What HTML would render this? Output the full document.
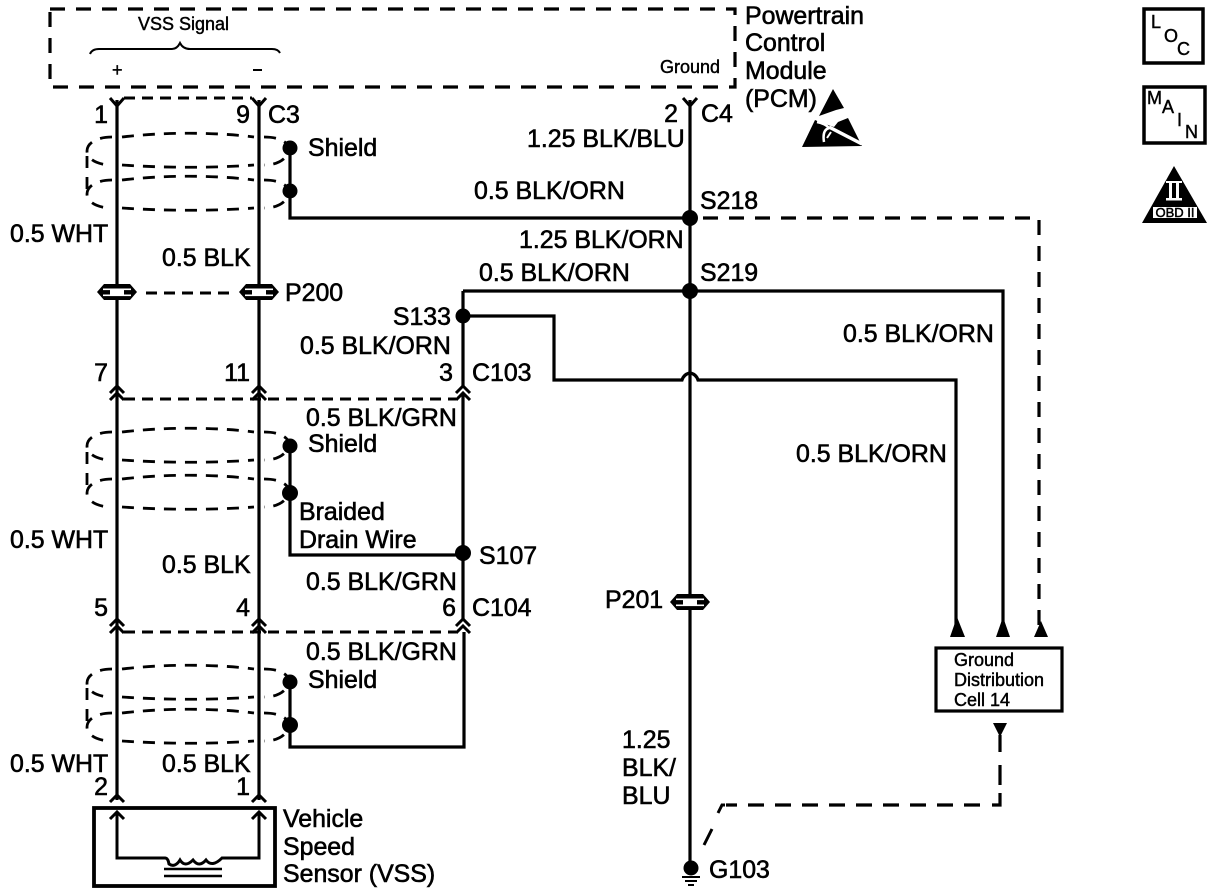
<!DOCTYPE html>
<html><head><meta charset="utf-8"><style>
html,body{margin:0;padding:0;background:#fff;width:1216px;height:894px;overflow:hidden}
svg{display:block}
text{font-family:"Liberation Sans",sans-serif;font-size:24.9px;fill:#000;stroke:#000;stroke-width:.6px}
.s{font-size:18px;stroke-width:.45px}
.e{text-anchor:end}
.w{fill:none;stroke:#000;stroke-width:3.2}
.d{fill:none;stroke:#000;stroke-width:3.2;stroke-dasharray:15 11}
.c{fill:none;stroke:#000;stroke-width:2.8;stroke-dasharray:12 9}
.h{fill:none;stroke:#000;stroke-width:3}
</style></head><body>
<svg width="1216" height="894" viewBox="0 0 1216 894" xmlns="http://www.w3.org/2000/svg">
<defs>
<g id="conn"><polygon points="-20,0 -13,-8 13,-8 20,0 13,8 -13,8" fill="#000"/><rect x="-14" y="-3.5" width="28" height="1.6" fill="#fff"/><rect x="-14" y="2.5" width="28" height="1.6" fill="#fff"/><rect x="-7" y="-2" width="14" height="4.5" fill="#fff"/></g>
<g id="ring">
<path class="c" d="M112,0 C97,0 87,6 87,14 C87,22 97,28 112,28"/>
<path class="c" d="M122,0 C165,-5 215,-5 254,0"/>
<path class="c" d="M122,28 C165,31 215,31 254,28"/>
<path class="c" d="M264,0 C278,0 287,4 290,12 C287,22 278,28 264,28"/>
</g>
<g id="chev"><path class="h" d="M-7,7 L0,0 L7,7 M-7,14 L0,7 L7,14"/></g>
</defs>

<!-- PCM box -->
<path class="d" d="M50,9 H735 V87 H50 Z"/>
<text class="s" x="138" y="30">VSS Signal</text>
<path d="M90,54 Q92,49 99,49 H172 Q177,49 180,43 Q183,49 190,49 H272 Q278,49 280,53" fill="none" stroke="#000" stroke-width="2"/>
<text class="s" x="112" y="76">+</text>
<path d="M253,70 H262" stroke="#000" stroke-width="2"/>
<text class="s" x="660" y="73">Ground</text>
<text x="745" y="24">Powertrain</text>
<text x="745" y="51">Control</text>
<text x="745" y="79">Module</text>
<text x="745" y="107">(PCM)</text>

<!-- ESD symbol -->
<polygon points="833,89 844,108 836,110 819,116" fill="#000"/>
<polygon points="802,147 815,120 822,123 834,127 838,122 848,118 862,146" fill="#000"/>
<path d="M829,127 L862,144" stroke="#fff" stroke-width="3.5"/>
<path d="M817,122 Q826,124 829,128 Q822,130 824,142" fill="none" stroke="#fff" stroke-width="2.5"/>
<path d="M827,138 L831,132" stroke="#fff" stroke-width="2"/>

<!-- main wires left -->
<path class="w" d="M117,100 V800"/>
<path class="w" d="M259,100 V800"/>
<path class="h" d="M110,98 L117,106 L124,98 M252,98 L259,106 L266,98"/>
<path class="h" d="M124,98 H252" style="stroke-dasharray:11 7"/>

<!-- rings -->
<use href="#ring" x="0" y="137"/>
<use href="#ring" x="0" y="180"/>
<use href="#ring" x="0" y="432"/>
<use href="#ring" x="0" y="479"/>
<use href="#ring" x="0" y="669"/>
<use href="#ring" x="0" y="713"/>
<path class="c" d="M87,156 V190 M87,452 V492 M87,688 V726"/>

<!-- shield wires -->
<path class="w" d="M290,148 V218 H690"/>
<path class="w" d="M290,446 V555 H463"/>
<path class="w" d="M290,682 V747 H464 V632"/>
<circle cx="290" cy="148" r="7.5"/><circle cx="290" cy="191" r="7.5"/>
<circle cx="290" cy="446" r="7.5"/><circle cx="290" cy="493" r="8"/>
<circle cx="290" cy="682" r="7.5"/><circle cx="290" cy="725" r="8"/>

<!-- P200 -->
<use href="#conn" x="117" y="292"/><use href="#conn" x="259" y="292"/>
<path class="h" d="M146,293 H236" style="stroke-dasharray:11 7"/>

<!-- C103/C104 -->
<use href="#chev" x="117" y="386"/><use href="#chev" x="259" y="386"/><use href="#chev" x="463" y="386"/>
<path class="h" d="M124,399 H456" style="stroke-dasharray:11 7"/>
<use href="#chev" x="117" y="619"/><use href="#chev" x="259" y="619"/><use href="#chev" x="463" y="619"/>
<path class="h" d="M124,632 H456" style="stroke-dasharray:11 7"/>

<!-- centre / right wires -->
<path class="w" d="M463,291 V386 M463,393 V620"/>
<path class="w" d="M690,100 V868"/>
<path class="h" d="M683,98 L690,106 L697,98"/>
<path class="w" d="M463,291 H1003 V626"/>
<path class="w" d="M463,316 H554 V380 H682 Q684,374 690,373 Q696,374 698,380 H956 V626"/>
<path class="d" d="M703,218 H1039 V626"/>
<circle cx="690" cy="218" r="8"/><circle cx="690" cy="291" r="8"/>
<circle cx="463" cy="316" r="7.5"/><circle cx="463" cy="553" r="8"/>
<polygon points="957,617 950,637 965,637"/>
<polygon points="1003,617 996,637 1010,637"/>
<polygon points="1041,621 1034,637 1048,637"/>

<!-- P201 / ground -->
<use href="#conn" x="690" y="602"/>
<circle cx="691" cy="868" r="7.5"/>
<path d="M682,877 H700 M685,881 H697 M688,885 H694" stroke="#000" stroke-width="2"/>
<text x="709" y="878">G103</text>

<!-- ground distribution -->
<rect x="936" y="648" width="126" height="63" fill="#fff" stroke="#000" stroke-width="3.2"/>
<text class="s" x="954" y="666">Ground</text>
<text class="s" x="954" y="686">Distribution</text>
<text class="s" x="954" y="706">Cell 14</text>
<polygon points="993,723 1007,723 1000,737"/>
<path class="w" d="M1000,735 V752 M1000,765 V785 M1000,793 V805 H992"/>
<path d="M980,805 H726" fill="none" stroke="#000" stroke-width="3.2" stroke-dasharray="16 11"/>
<path d="M725,805 H722 L718,813 M712,829 L704,845" fill="none" stroke="#000" stroke-width="3"/>

<!-- VSS -->
<path class="h" d="M110,802 L117,795 L124,802 M252,802 L259,795 L266,802"/>
<rect x="94" y="808" width="181" height="78" fill="#fff" stroke="#000" stroke-width="3.8"/>
<path class="h" d="M110,819 L117,812 L124,819 M252,819 L259,812 L266,819"/>
<path class="h" d="M117,812 V858 H165 Q168,858 169,864 Q175,868 180,860 Q185,868 193,860 Q199,868 206,860 Q212,868 222,858 H259 V812"/>
<path d="M164,869 H222 M164,876 H222" stroke="#000" stroke-width="2.5"/>
<text x="283" y="827">Vehicle</text>
<text x="283" y="855">Speed</text>
<text x="283" y="882">Sensor (VSS)</text>

<!-- labels -->
<text class="e" x="108" y="123">1</text>
<text class="e" x="250" y="123">9</text>
<text x="268" y="123">C3</text>
<text x="308" y="156">Shield</text>
<text x="10" y="242">0.5 WHT</text>
<text x="162" y="266">0.5 BLK</text>
<text x="285" y="301">P200</text>
<text class="e" x="678" y="122">2</text>
<text x="701" y="122">C4</text>
<text x="527" y="147">1.25 BLK/BLU</text>
<text x="474" y="199">0.5 BLK/ORN</text>
<text x="700" y="209">S218</text>
<text x="519" y="248">1.25 BLK/ORN</text>
<text x="479" y="281">0.5 BLK/ORN</text>
<text x="700" y="281">S219</text>
<text class="e" x="451" y="325">S133</text>
<text x="300" y="354">0.5 BLK/ORN</text>
<text class="e" x="108" y="381">7</text>
<text class="e" x="250" y="381">11</text>
<text class="e" x="453" y="381">3</text>
<text x="472" y="381">C103</text>
<text x="843" y="342">0.5 BLK/ORN</text>
<text x="796" y="462">0.5 BLK/ORN</text>
<text x="306" y="426">0.5 BLK/GRN</text>
<text x="308" y="452">Shield</text>
<text x="299" y="520">Braided</text>
<text x="299" y="548">Drain Wire</text>
<text x="479" y="564">S107</text>
<text x="10" y="548">0.5 WHT</text>
<text x="162" y="573">0.5 BLK</text>
<text x="306" y="590">0.5 BLK/GRN</text>
<text class="e" x="108" y="616">5</text>
<text class="e" x="250" y="616">4</text>
<text class="e" x="456" y="616">6</text>
<text x="472" y="616">C104</text>
<text x="605" y="608">P201</text>
<text x="306" y="660">0.5 BLK/GRN</text>
<text x="308" y="688">Shield</text>
<text x="10" y="772">0.5 WHT</text>
<text x="162" y="772">0.5 BLK</text>
<text class="e" x="108" y="795">2</text>
<text class="e" x="250" y="795">1</text>
<text x="622" y="748">1.25</text>
<text x="622" y="776">BLK/</text>
<text x="622" y="804">BLU</text>

<!-- side icons -->
<rect x="1144" y="9" width="59" height="54" fill="none" stroke="#000" stroke-width="3.5"/>
<text class="s" x="1151" y="28">L</text>
<text class="s" x="1164" y="42">O</text>
<text class="s" x="1177" y="55">C</text>
<rect x="1144" y="87" width="61" height="56" fill="none" stroke="#000" stroke-width="3.5"/>
<text class="s" x="1147" y="104">M</text>
<text class="s" x="1162" y="113">A</text>
<text class="s" x="1177" y="126">I</text>
<text class="s" x="1185" y="138">N</text>
<polygon points="1174,166 1142,223 1207,223" fill="#000"/>
<rect x="1166" y="181" width="16" height="2" fill="#fff"/>
<rect x="1169" y="182" width="3" height="17" fill="#fff"/>
<rect x="1176" y="182" width="3" height="17" fill="#fff"/>
<rect x="1166" y="198" width="16" height="2.5" fill="#fff"/>
<rect x="1153" y="207" width="44" height="11" fill="#fff"/>
<text x="1175" y="217" text-anchor="middle" style="font-size:13px;stroke-width:.5px">OBD II</text>
</svg>
</body></html>
